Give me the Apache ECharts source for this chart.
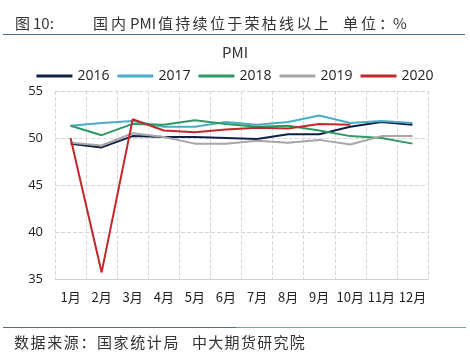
<!DOCTYPE html>
<html><head><meta charset="utf-8">
<script src="https://cdn.jsdelivr.net/npm/echarts@6/dist/echarts.min.js"></script>
<style>html,body{margin:0;padding:0;background:#fff}#c{width:470px;height:354px}</style>
</head><body><div id="c"></div>
<script>
const categories = ['1月','2月','3月','4月','5月','6月','7月','8月','9月','10月','11月','12月'];
const s2016 = [49.4, 49.0, 50.2, 50.1, 50.1, 50.0, 49.9, 50.4, 50.4, 51.2, 51.7, 51.4];
const s2017 = [51.3, 51.6, 51.8, 51.2, 51.2, 51.7, 51.4, 51.7, 52.4, 51.6, 51.8, 51.6];
const s2018 = [51.3, 50.3, 51.5, 51.4, 51.9, 51.5, 51.2, 51.3, 50.8, 50.2, 50.0, 49.4];
const s2019 = [49.5, 49.2, 50.5, 50.1, 49.4, 49.4, 49.7, 49.5, 49.8, 49.3, 50.2, 50.2];
const s2020 = [50.0, 35.7, 52.0, 50.8, 50.6, 50.9, 51.1, 51.0, 51.5, 51.4];
const yTicks = [35, 40, 45, 50, 55];
const seriesNames = ['2016','2017','2018','2019','2020'];
const colors = ['#0f1f45','#4bacc6','#2e9a63','#a6a6a6','#c0282a'];
const dataList = [s2016, s2017, s2018, s2019, s2020];

const cjk = '"Noto Sans CJK SC", sans-serif';
// spaced text runs: [string, startX, step]
function runs(list, y, size) {
  const out = [];
  list.forEach(([str, x0, step]) => {
    if (!step) { out.push({type:'text', x:x0, y:y, style:{text:str, fontSize:size, fill:'#333', fontFamily:cjk, textVerticalAlign:'middle'}}); return; }
    Array.from(str).forEach((ch, i) => out.push({type:'text', x:x0 + i*step, y:y,
      style:{text:ch, fontSize:size, fill:'#333', fontFamily:cjk, textVerticalAlign:'middle'}}));
  });
  return out;
}
const header = runs([['图', 15, 0], ['10:', 33, 0], ['国内', 93, 18], ['PMI', 130, 0], ['值持续位于荣枯线以上', 158, 17.3], ['单位：', 343, 18], ['%', 393, 0]], 23, 15);
const footer = runs([['数据来源：国家统计局', 14, 16.6], ['中大期货研究院', 192, 16.3]], 342, 15);

const chart = echarts.init(document.getElementById('c'));
chart.setOption({
  animation: false,
  color: colors,
  title: {text: 'PMI', left: 'center', top: 40, textStyle: {fontSize: 15, fontWeight: 'normal', color: '#333', fontFamily: cjk}},
  legend: {top: 64, left: 'center', itemWidth: 36, itemHeight: 3, itemGap: 8, icon: 'rect',
    textStyle: {fontSize: 14, color: '#222', fontFamily: 'Open Sans, sans-serif'}, data: seriesNames},
  grid: {left: 55, right: 42, top: 91, bottom: 75},
  xAxis: {type: 'category', data: categories, boundaryGap: true,
    axisLine: {lineStyle: {color: '#cfcfcf'}}, axisTick: {show: false},
    axisLabel: {fontSize: 13, color: '#222', margin: 12, interval: 0, fontFamily: cjk},
    splitLine: {show: true, lineStyle: {type: 'dashed', color: '#d6d6d6'}}},
  yAxis: {type: 'value', min: yTicks[0], max: yTicks[yTicks.length-1], interval: 5,
    axisLine: {show: false}, axisTick: {show: false},
    axisLabel: {fontSize: 13, color: '#222', margin: 12, fontFamily: 'Open Sans, sans-serif'},
    splitLine: {lineStyle: {type: 'dashed', color: '#d6d6d6'}}},
  series: dataList.map((d, i) => ({name: seriesNames[i], type: 'line', data: d, symbol: 'none',
    lineStyle: {width: 2, color: colors[i]}, z: i === 4 ? 5 : 2})),
  graphic: header.concat(footer, [
    {type: 'rect', shape: {x: 3, y: 34, width: 462, height: 1}, style: {fill: '#4f6f86'}},
    {type: 'rect', shape: {x: 3, y: 327, width: 233, height: 1}, style: {fill: '#4f6f86'}},
    {type: 'rect', shape: {x: 236, y: 327, width: 230, height: 1}, style: {fill: '#6aa7b8'}}
  ])
});
</script></body></html>
